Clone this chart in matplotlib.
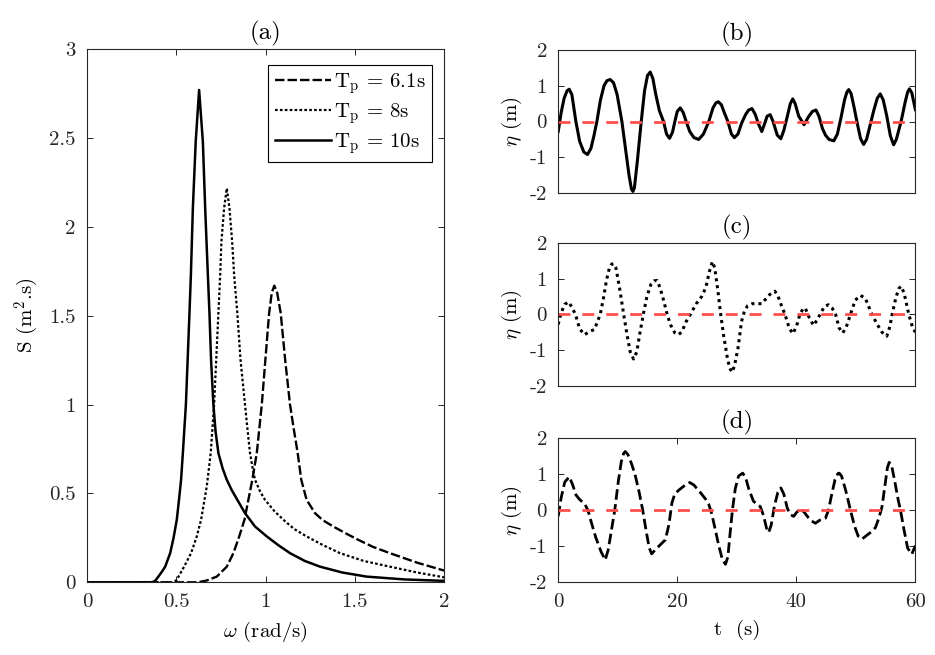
"""
Wave spectra (JONSWAP) and the matching surface elevation records"""
import matplotlib
matplotlib.use("Agg")
import matplotlib.pyplot as plt

plt.rcParams['font.family'] = 'cmr10'
plt.rcParams['mathtext.fontset'] = 'cm'
plt.rcParams['axes.unicode_minus'] = False
plt.rcParams['font.size'] = 15

# ---- (a) spectra, values ----
w_10 = [0.0, 0.36, 0.38, 0.40, 0.42, 0.438, 0.466, 0.485, 0.503, 0.515, 0.527, 0.537,
        0.554, 0.574, 0.582, 0.593, 0.609, 0.628, 0.649, 0.662, 0.677, 0.686, 0.695,
        0.708, 0.72, 0.736, 0.76, 0.783, 0.81, 0.842, 0.885, 0.941, 1.007, 1.07, 1.137,
        1.22, 1.305, 1.43, 1.566, 1.78, 2.0]
S_10 = [0.0, 0.0, 0.006, 0.032, 0.06, 0.088, 0.164, 0.25, 0.352, 0.46, 0.577, 0.727,
        1.0, 1.514, 1.73, 2.105, 2.48, 2.77, 2.48, 2.105, 1.73, 1.514, 1.25,
        1.0, 0.85, 0.727, 0.64, 0.577, 0.52, 0.464, 0.389, 0.314, 0.258, 0.21, 0.164,
        0.12, 0.088, 0.055, 0.032, 0.016, 0.008]

w_8 = [0.0, 0.48, 0.50, 0.513, 0.544, 0.583, 0.615, 0.639, 0.671, 0.693, 0.712, 0.736,
       0.746, 0.753, 0.768, 0.783, 0.798, 0.813, 0.824, 0.842, 0.86, 0.885, 0.90, 0.913,
       0.93, 0.941, 0.97, 0.997, 1.05, 1.10, 1.16, 1.23, 1.32, 1.417, 1.55, 1.696,
       1.85, 2.0]
S_8 = [0.0, 0.0, 0.01, 0.032, 0.088, 0.164, 0.258, 0.352, 0.54, 0.727, 1.0, 1.514,
       1.73, 1.917, 2.105, 2.217, 2.105, 1.917, 1.73, 1.514, 1.25, 1.0, 0.85, 0.727,
       0.63, 0.577, 0.51, 0.464, 0.40, 0.352, 0.30, 0.258, 0.21, 0.164, 0.12, 0.088,
       0.055, 0.028]

w_61 = [0.0, 0.62, 0.67, 0.727, 0.783, 0.82, 0.85, 0.882, 0.926, 0.951, 0.979, 1.02,
        1.035, 1.049, 1.065, 1.085, 1.11, 1.137, 1.16, 1.18, 1.2, 1.23, 1.277, 1.32,
        1.379, 1.45, 1.519, 1.6, 1.696, 1.85, 2.0]
S_61 = [0.0, 0.0, 0.01, 0.032, 0.088, 0.164, 0.25, 0.352, 0.577, 0.727, 1.0, 1.514,
        1.63, 1.669, 1.63, 1.514, 1.25, 1.0, 0.85, 0.727, 0.577, 0.464, 0.389, 0.35,
        0.314, 0.275, 0.239, 0.2, 0.164, 0.11, 0.066]

# ---- (b) Tp = 10 s ----
t_b = [0.0, 0.5, 1.0, 1.5, 1.85, 2.3, 2.97, 3.6, 4.3, 4.93, 5.5, 6.0, 6.5, 7.1, 7.7,
       8.2, 8.74, 9.3, 9.9, 10.7, 11.3, 11.9, 12.3, 12.55, 12.8, 13.3, 13.95, 14.5,
       15.0, 15.46, 15.9, 16.4, 17.0, 17.7, 18.2, 18.7, 19.2, 19.6, 20.0, 20.5, 21.0,
       21.5, 22.1, 22.8, 23.6, 24.4, 25.3, 26.0, 26.5, 26.9, 27.4, 27.9, 28.5, 29.1,
       29.6, 30.2, 30.8, 31.5, 32.0, 32.55, 33.1, 33.6, 34.2, 34.7, 35.1, 35.6, 36.1,
       36.8, 37.4, 37.9, 38.5, 39.0, 39.4, 39.8, 40.4, 41.3, 42.0, 42.7, 43.3, 43.8,
       44.4, 44.9, 45.5, 46.3, 46.9, 47.5, 48.1, 48.5, 48.8, 49.2, 49.7, 50.3, 50.8,
       51.3, 51.8, 52.4, 53.0, 53.6, 54.1, 54.6, 55.2, 55.8, 56.35, 56.8, 57.6, 58.3,
       58.7, 59.0, 59.4, 60.0]
eta_b = [-0.28, 0.25, 0.65, 0.86, 0.90, 0.75, 0.0, -0.55, -0.85, -0.92, -0.75, -0.4,
         0.0, 0.6, 1.0, 1.14, 1.17, 1.08, 0.75, 0.0, -0.75, -1.5, -1.88, -1.95, -1.85,
         -1.1, 0.0, 0.85, 1.28, 1.38, 1.2, 0.75, 0.3, 0.0, -0.35, -0.47, -0.3, 0.0,
         0.28, 0.38, 0.25, 0.0, -0.28, -0.45, -0.5, -0.35, 0.0, 0.38, 0.52, 0.55, 0.47,
         0.25, 0.0, -0.35, -0.45, -0.35, -0.05, 0.2, 0.32, 0.36, 0.2, -0.05, -0.28,
         -0.05, 0.15, 0.19, 0.0, -0.38, -0.48, -0.25, 0.15, 0.5, 0.63, 0.5, 0.15, -0.09,
         0.12, 0.28, 0.32, 0.15, -0.2, -0.38, -0.5, -0.54, -0.35, 0.1, 0.6, 0.82, 0.89,
         0.78, 0.4, -0.1, -0.48, -0.64, -0.5, -0.1, 0.3, 0.65, 0.77, 0.6, 0.15, -0.4,
         -0.65, -0.5, 0.0, 0.55, 0.82, 0.91, 0.8, 0.33]

# ---- (c) Tp = 8 s ----
t_c = [0.0, 0.5, 1.1, 1.74, 2.3, 2.9, 3.6, 4.4, 5.3, 6.1, 6.6, 7.06, 7.6, 8.1, 8.6,
       9.0, 9.3, 9.7, 10.3, 11.0, 11.6, 12.1, 12.66, 13.2, 13.7, 14.3, 14.9, 15.6, 16.1,
       16.6, 17.1, 17.7, 18.3, 18.9, 19.6, 20.2, 20.8, 21.5, 22.2, 23.2, 24.1, 24.8,
       25.4, 25.9, 26.3, 26.8, 27.3, 27.8, 28.4, 28.8, 29.2, 29.6, 30.2, 30.8, 31.3,
       31.8, 32.6, 33.4, 34.2, 34.8, 35.5, 36.0, 36.4, 36.9, 37.5, 38.1, 38.8, 39.4,
       40.0, 40.6, 41.1, 41.5, 42.2, 42.9, 43.5, 44.0, 44.7, 45.4, 46.0, 46.6, 47.2,
       47.8, 48.4, 49.1, 49.9, 50.8, 51.6, 52.7, 53.6, 54.4, 55.2, 55.7, 56.1, 56.7,
       57.2, 57.6, 58.1, 58.9, 59.5, 60.0]
eta_c = [-0.28, 0.05, 0.28, 0.35, 0.2, 0.0, -0.4, -0.57, -0.48, -0.42, -0.2, 0.0, 0.45,
         0.95, 1.3, 1.41, 1.42, 1.3, 0.75, 0.0, -0.6, -1.05, -1.25, -1.05, -0.55, 0.0,
         0.5, 0.85, 0.94, 0.95, 0.75, 0.4, 0.0, -0.3, -0.52, -0.57, -0.48, -0.2, 0.0,
         0.3, 0.5, 0.75, 1.2, 1.48, 1.3, 0.7, 0.0, -0.6, -1.2, -1.5, -1.62, -1.45, -0.95,
         -0.2, 0.1, 0.24, 0.3, 0.3, 0.3, 0.42, 0.55, 0.62, 0.65, 0.52, 0.25, 0.0, -0.38,
         -0.54, -0.35, 0.0, 0.15, 0.18, -0.1, -0.31, -0.15, 0.0, 0.22, 0.27, 0.18, 0.0,
         -0.38, -0.52, -0.35, 0.0, 0.4, 0.53, 0.45, 0.0, -0.28, -0.5, -0.61, -0.35, 0.0,
         0.45, 0.72, 0.79, 0.6, 0.0, -0.35, -0.5]

# ---- (d) Tp = 6.1 s ----
t_d = [0.0, 0.5, 1.1, 1.85, 2.4, 3.0, 3.6, 4.5, 5.0, 5.5, 6.3, 7.2, 7.9, 8.4, 9.0, 9.5,
       10.1, 10.6, 11.0, 11.26, 11.7, 12.3, 12.9, 13.6, 14.2, 14.8, 15.3, 15.7, 16.3,
       17.2, 18.0, 18.6, 19.1, 19.55, 20.2, 20.8, 21.5, 22.1, 22.8, 23.9, 24.8, 25.3,
       25.8, 26.4, 27.0, 27.6, 28.1, 28.5, 28.9, 29.3, 29.75, 30.3, 31.0, 31.5, 32.0,
       32.8, 33.95, 34.5, 35.0, 35.35, 35.8, 36.3, 36.9, 37.4, 37.9, 38.5, 39.0, 39.55,
       40.1, 40.7, 41.3, 42.0, 42.6, 43.2, 44.0, 44.9, 45.4, 45.9, 46.5, 47.0, 47.2,
       47.6, 48.3, 49.1, 49.8, 50.4, 51.05, 51.8, 52.6, 53.3, 53.9, 54.4, 54.9, 55.3,
       55.6, 56.0, 56.6, 57.1, 57.5, 58.1, 58.7, 59.4, 60.0]
eta_d = [-0.17, 0.35, 0.78, 0.93, 0.72, 0.42, 0.3, 0.16, 0.0, -0.3, -0.75, -1.15, -1.38,
         -1.1, -0.5, 0.0, 0.8, 1.35, 1.58, 1.63, 1.55, 1.3, 1.0, 0.5, 0.0, -0.6, -1.05,
         -1.21, -1.1, -0.95, -0.82, -0.4, 0.2, 0.44, 0.55, 0.63, 0.72, 0.77, 0.7, 0.49,
         0.3, 0.16, -0.1, -0.55, -1.0, -1.38, -1.5, -1.3, -0.6, 0.05, 0.6, 0.95, 1.03,
         0.9, 0.6, 0.25, 0.1, -0.15, -0.5, -0.62, -0.4, 0.1, 0.5, 0.62, 0.45, 0.05,
         -0.12, -0.17, -0.05, 0.04, -0.05, -0.2, -0.3, -0.36, -0.27, -0.22, 0.0, 0.4,
         0.85, 1.02, 1.03, 0.95, 0.55, 0.0, -0.45, -0.72, -0.8, -0.7, -0.6, -0.48, -0.2,
         0.1, 0.7, 1.18, 1.33, 1.25, 0.75, 0.3, 0.0, -0.55, -1.05, -1.22, -0.98]

AX_COL = (0.15, 0.15, 0.15)
RED = (1.0, 0.3, 0.3)


def style_axes(ax):
    ax.tick_params(direction='in', length=4, width=0.7, top=True, right=True,
                   colors=AX_COL, labelcolor=AX_COL, pad=8)
    for sp in ax.spines.values():
        sp.set_color(AX_COL)
        sp.set_linewidth(0.8)


fig = plt.figure(figsize=(9.35, 6.55), dpi=100)

# spectra
ax = fig.add_axes([0.093, 0.111, 0.382, 0.814])
ax.plot(w_61, S_61, color='k', lw=1.7, dashes=(4.0, 1.3), label=r'T$_{\rm p}$ = 6.1s')
ax.plot(w_8, S_8, color='k', lw=1.6, dashes=(1.2, 1.0), label=r'T$_{\rm p}$ = 8s')
ax.plot(w_10, S_10, color='k', lw=1.8, label=r'T$_{\rm p}$ = 10s')
ax.set_xlim(0, 2)
ax.set_ylim(0, 3)
ax.set_xticks([0, 0.5, 1, 1.5, 2])
ax.set_xticklabels(['0', '0.5', '1', '1.5', '2'])
ax.set_yticks([0, 0.5, 1, 1.5, 2, 2.5, 3])
ax.set_yticklabels(['0', '0.5', '1', '1.5', '2', '2.5', '3'])
style_axes(ax)
ax.set_xlabel(r'$\omega$ (rad/s)', labelpad=6)
ax.set_ylabel(r'S (m$^2$.s)', labelpad=6)
ax.set_title('(a)', pad=7)
leg = ax.legend(loc='upper right', bbox_to_anchor=(0.966, 0.97), fancybox=False,
                edgecolor='k', handlelength=2.7, handletextpad=0.15, borderpad=0.3,
                labelspacing=0.25, borderaxespad=0.0, framealpha=1)
leg.get_frame().set_linewidth(0.8)

# time series
rows = [([0.597, 0.705, 0.382, 0.219], t_b, eta_b, dict(lw=2.2), '(b)'),
        ([0.597, 0.411, 0.382, 0.218], t_c, eta_c, dict(lw=2.2, dashes=(1.0, 1.3)), '(c)'),
        ([0.597, 0.111, 0.382, 0.220], t_d, eta_d, dict(lw=2.0, dashes=(3.8, 1.6)), '(d)')]

for rect, tt, ee, ls, name in rows:
    a = fig.add_axes(rect)
    a.plot(tt, ee, color='k', **ls)
    a.plot([0, 60], [0, 0], color=RED, lw=2.0, dashes=(4.3, 4.3))
    a.set_xlim(0, 60)
    a.set_ylim(-2, 2)
    a.set_yticks([-2, -1, 0, 1, 2])
    a.set_yticklabels(['-2', '-1', '0', '1', '2'])
    style_axes(a)
    a.set_ylabel(r'$\eta$ (m)', labelpad=4)
    a.set_title(name, pad=7)
    if name == '(d)':
        a.set_xticks([0, 20, 40, 60])
        a.set_xticklabels(['0', '20', '40', '60'])
        a.set_xlabel(r't  (s)', labelpad=6)
    else:
        a.set_xticks([])

fig.savefig('out.png', dpi=100)
